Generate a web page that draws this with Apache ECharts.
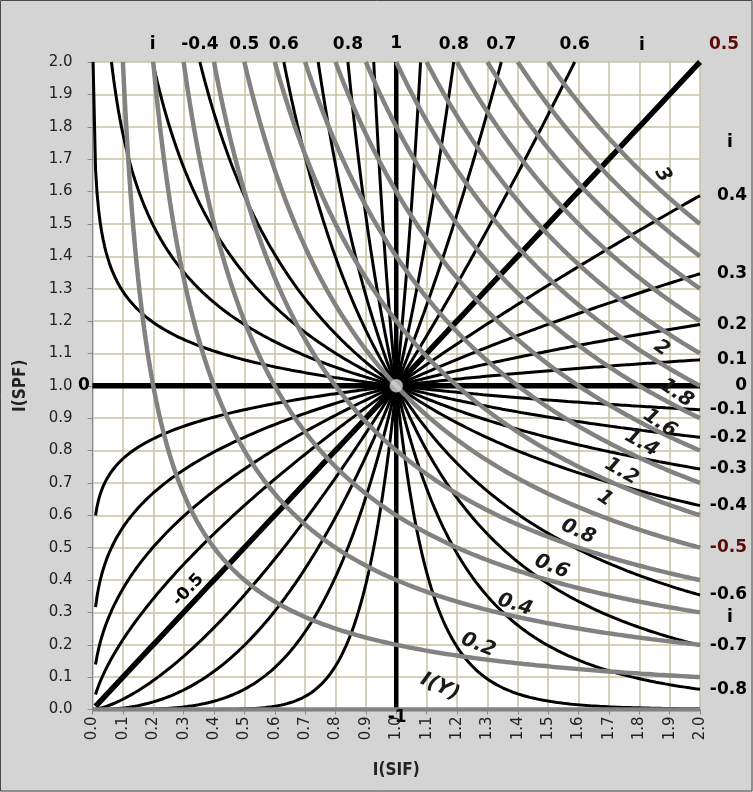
<!DOCTYPE html>
<html>
<head>
<meta charset="utf-8">
<script src="https://cdn.jsdelivr.net/npm/echarts@6/dist/echarts.min.js"></script>
<style>
  html, body { margin: 0; padding: 0; background: #d4d4d4; }
  #chart { width: 753px; height: 792px; }
</style>
</head>
<body>
<div id="chart"></div>
<script>
// Interaction index i of the black family: I(SPF) = I(SIF)^(i / (1 - |i|))
const iLevels = [-0.9, -0.8, -0.7, -0.6, -0.5, -0.4, -0.3, -0.2, -0.1, 0,
                 0.1, 0.2, 0.3, 0.4, 0.5, 0.6, 0.7, 0.8, 0.9];
// Output index of the gray family: I(Y) = I(SIF) * I(SPF)
const yLevels = [0, 0.2, 0.4, 0.6, 0.8, 1, 1.2, 1.4, 1.6, 1.8, 2, 2.2, 2.4, 2.6, 2.8, 3];
// i values written at the right edge (where the curve leaves the plot)
const rightLabelLevels = [0.4, 0.3, 0.2, 0.1, 0, -0.1, -0.2, -0.3, -0.4, -0.5, -0.6, -0.7, -0.8];
// Texts along the top edge, each tied to the curve i that crosses the top there
const topLabelTexts = ['i', '-0.4', '0.5', '0.6', '0.8', '0.8', '0.7', '0.6'];
const topLabelCurves = [-0.3, -0.4, -0.5, -0.6, -0.8, 0.8, 0.7, 0.6];
// I(Y) levels that carry a label
const grayLabelLevels = [3, 2, 1.8, 1.6, 1.4, 1.2, 1, 0.8, 0.6, 0.4, 0.2];
// Sampling grid along I(SIF)
const xMin = 0.01, xMax = 2, xStep = 0.005;

const AX_MAX = 2;
const xs = [];
for (let k = 0; xMin + k * xStep <= xMax + 1e-9; k++) xs.push(+(xMin + k * xStep).toFixed(4));

function exponentOf(i) { return i / (1 - Math.abs(i)); }

function blackCurve(i) {
  const e = exponentOf(i);
  if (e === 0) return [[0, 1], [2, 1]];
  const pts = [];
  if (e < 0) {
    const x0 = Math.pow(AX_MAX, 1 / e);          // where the curve enters from the top
    pts.push([x0, AX_MAX]);
    xs.forEach(x => { if (x > x0) pts.push([x, Math.pow(x, e)]); });
  } else {
    const x1 = Math.pow(AX_MAX, 1 / e);          // where the curve leaves through the top
    xs.forEach(x => { if (x < x1) pts.push([x, Math.pow(x, e)]); });
    if (x1 <= 2) pts.push([x1, AX_MAX]);
  }
  return pts;
}

function grayCurve(c) {
  if (c === 0) return [[0, 0], [2, 0]];
  const x0 = c / AX_MAX;
  const pts = [[x0, AX_MAX]];
  xs.forEach(x => { if (x > x0) pts.push([x, c / x]); });
  return pts;
}

const series = [];
iLevels.forEach(i => {
  const thick = (i === 0 || i === 0.5);
  series.push({
    type: 'line', data: blackCurve(i), showSymbol: false, silent: true,
    lineStyle: { color: '#000', width: thick ? 5.5 : 3 }, z: 3
  });
});
// i = ±1 : the vertical line I(SIF) = 1
series.push({
  type: 'line', data: [[1, 0], [1, 2]], showSymbol: false, silent: true,
  lineStyle: { color: '#000', width: 4.5 }, z: 3
});
yLevels.forEach(c => {
  series.push({
    type: 'line', data: grayCurve(c), showSymbol: false, silent: true,
    lineStyle: { color: '#828282', width: 4.5 }, z: 4
  });
});
series.push({
  type: 'scatter', data: [[1, 1]], symbolSize: 13, silent: true,
  itemStyle: { color: '#d9d9d9', borderColor: '#bdbdbd', borderWidth: 0.5 }, z: 6
});

const chart = echarts.init(document.getElementById('chart'), null, { renderer: 'canvas' });

const axisCommon = {
  type: 'value', min: 0, max: 2, interval: 0.1,
  axisLine: { show: true, lineStyle: { color: '#8a8a8a', width: 1 } },
  axisTick: { show: true, length: 5, lineStyle: { color: '#8a8a8a' } },
  splitLine: { show: true, lineStyle: { color: '#c9c2a2', width: 1.5 } }
};
const titleStyle = { fontFamily: 'DejaVu Sans Condensed, DejaVu Sans, sans-serif', fontWeight: 'bold', fontSize: 17, color: '#222' };

chart.setOption({
  animation: false,
  backgroundColor: '#d4d4d4',
  grid: { left: 92.5, top: 62, width: 607.5, height: 647.5, backgroundColor: '#ffffff', show: true, borderWidth: 0 },
  xAxis: Object.assign({}, axisCommon, {
    name: 'I(SIF)', nameLocation: 'middle', nameGap: 53, nameTextStyle: titleStyle,
    axisLabel: { rotate: 90, margin: 7, fontSize: 15, color: '#222', fontFamily: 'DejaVu Sans',
                 formatter: v => v.toFixed(1) }
  }),
  yAxis: Object.assign({}, axisCommon, {
    name: 'I(SPF)', nameLocation: 'middle', nameGap: 63, nameTextStyle: titleStyle,
    axisLabel: { margin: 20, fontSize: 15, color: '#222', fontFamily: 'DejaVu Sans',
                 formatter: v => v.toFixed(1) }
  }),
  series: series
});

// ---- annotations ----
const px = (x, y) => chart.convertToPixel({ gridIndex: 0 }, [x, y]);
const graphics = [];

function addText(text, x, y, opts) {
  opts = opts || {};
  graphics.push({
    type: 'text', x: x, y: y, rotation: opts.rotation || 0, z: 100, silent: true,
    style: {
      text: text,
      fontFamily: 'DejaVu Sans, sans-serif',
      fontWeight: 'bold',
      fontStyle: opts.italic ? 'italic' : 'normal',
      fontSize: opts.size || 17,
      fill: opts.fill || '#000',
      align: opts.align || 'center', verticalAlign: 'middle'
    }
  });
}

const fmt = v => (v === 0 ? '0' : String(v));
const darkRed = '#5a0b0b';

// right edge: value of i where each curve leaves the plot at I(SIF) = 2
rightLabelLevels.forEach(i => {
  const p = px(2, Math.pow(2, exponentOf(i)));
  addText(fmt(i), 747, p[1], { align: 'right', fill: i === -0.5 ? darkRed : '#000' });
});
addText('i', 730, 143);
addText('i', 730, 618);
addText('0.5', 724, 45, { fill: darkRed });

// top edge
topLabelTexts.forEach((t, k) => {
  const e = exponentOf(topLabelCurves[k]);
  const p = px(Math.pow(2, 1 / e), 2);
  addText(t, p[0], 45);
});
addText('1', px(1, 2)[0], 44);
addText('i', 642, 46);

// left / bottom marks of the straight lines
addText('0', 84, px(0, 1)[1]);
addText('-1', px(1, 0)[0] + 1, 718);
{
  const p = px(0.315, 0.369);
  addText('-0.5', p[0], p[1], { rotation: 47 * Math.PI / 180 });
}

// I(Y) labels beside their gray curves (anchor in data units, rotation in degrees)
const grayLabelSpots = {
  3: [1.878, 1.651, -58], 2: [1.874, 1.116, -35], 1.8: [1.923, 0.977, -34],
  1.6: [1.868, 0.884, -34], 1.4: [1.808, 0.822, -30], 1.2: [1.742, 0.735, -30],
  1: [1.687, 0.652, -35], 0.8: [1.599, 0.549, -24], 0.6: [1.512, 0.441, -22],
  0.4: [1.391, 0.323, -18], 0.2: [1.270, 0.199, -22]
};
grayLabelLevels.forEach(c => {
  const s = grayLabelSpots[c];
  const p = px(s[0], s[1]);
  addText(String(c), p[0], p[1], { italic: true, size: 20, fill: '#1a1a1a', rotation: s[2] * Math.PI / 180 });
});
{
  const p = px(1.144, 0.07);
  addText('I(Y)', p[0], p[1], { italic: true, size: 20, fill: '#1a1a1a', rotation: -25 * Math.PI / 180 });
}

// outer frame
graphics.push({
  type: 'rect', z: 100, silent: true,
  shape: { x: 0.5, y: 0.5, width: 751.5, height: 790.5 },
  style: { fill: 'none', stroke: '#4a4a4a', lineWidth: 1 }
});

chart.setOption({ graphic: graphics });
</script>
</body>
</html>
